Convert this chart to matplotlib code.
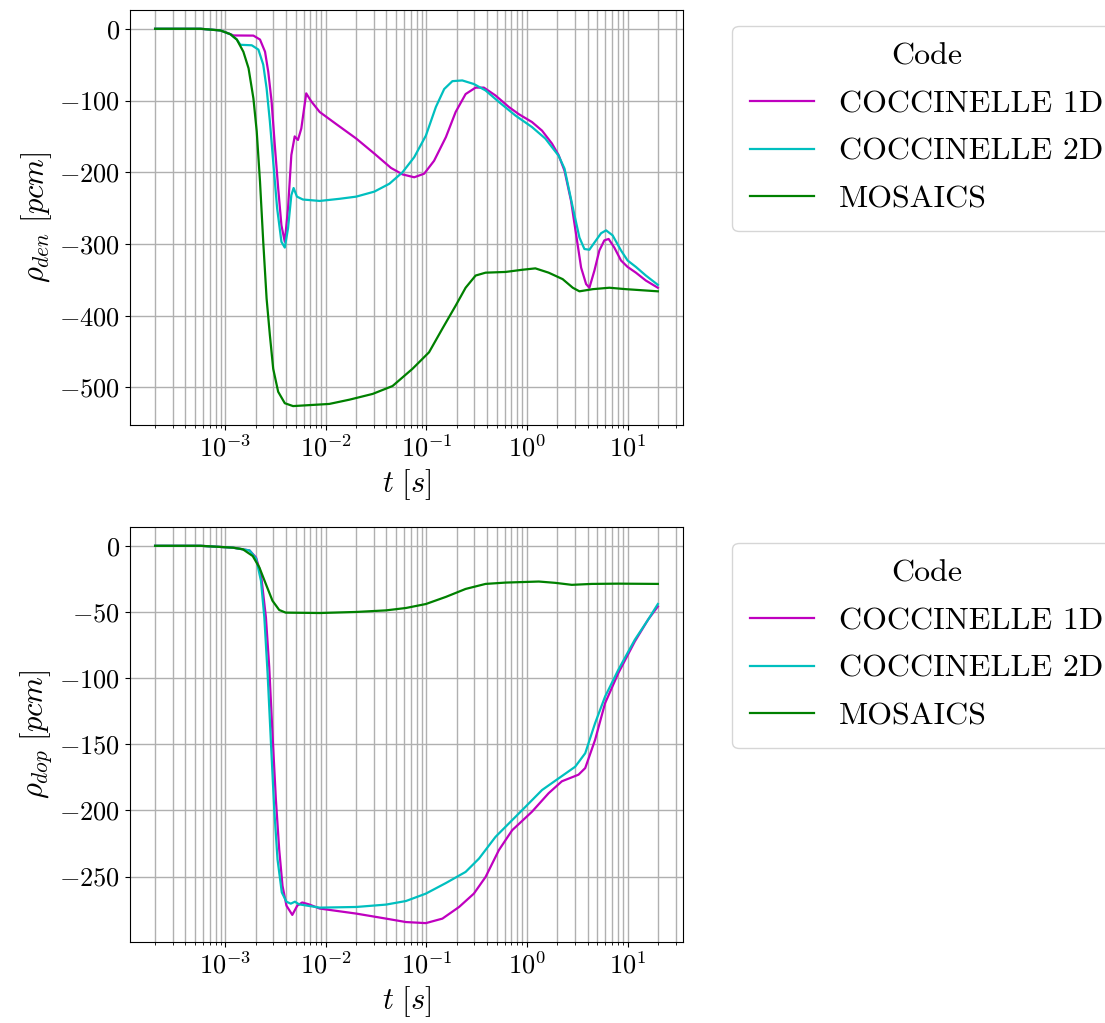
import matplotlib
matplotlib.use('Agg')
import matplotlib.pyplot as plt

plt.rcParams['font.family'] = 'serif'
plt.rcParams['font.serif'] = ['cmr10']
plt.rcParams['mathtext.fontset'] = 'cm'
plt.rcParams['axes.formatter.use_mathtext'] = True
plt.rcParams['axes.unicode_minus'] = True

labels = ['COCCINELLE 1D', 'COCCINELLE 2D', 'MOSAICS']
colors = ['m', 'c', 'g']

# --- density reactivity (top) ---
t_den_1d = [2.0e-4, 5.68e-4, 8.93e-4, 1.12e-3, 1.21e-3, 1.90e-3, 2.21e-3, 2.48e-3,
            2.67e-3, 2.88e-3, 3.10e-3, 3.35e-3, 3.61e-3, 3.90e-3, 4.20e-3, 4.53e-3,
            4.89e-3, 5.27e-3, 5.69e-3, 6.37e-3, 7.13e-3, 8.67e-3, 1.27e-2, 2.00e-2,
            3.03e-2, 4.44e-2, 5.78e-2, 7.55e-2, 9.49e-2, 0.119, 0.156, 0.195,
            0.245, 0.308, 0.372, 0.486, 0.659, 0.828, 1.12, 1.41, 1.77, 2.06,
            2.36, 2.74, 3.07, 3.45, 3.87, 4.17, 4.68, 5.24, 5.87, 6.48, 7.38,
            8.60, 10.0, 12.1, 15.2, 20.0]
rho_den_1d = [0, 0, -2.3, -7.5, -9.3, -9.5, -15, -32,
              -60, -101, -162, -222, -274, -297, -250, -176,
              -150, -155, -139, -90, -101, -116, -133, -153,
              -174, -194, -203, -207, -202, -184, -151, -116,
              -91, -82, -82, -93, -109, -119, -130, -142, -160, -176,
              -198, -240, -286, -333, -356, -361, -337, -309, -295, -293, -305,
              -323, -332, -340, -351, -361]

t_den_2d = [2.0e-4, 5.68e-4, 8.93e-4, 1.12e-3, 1.30e-3, 1.41e-3, 1.83e-3, 2.13e-3,
            2.38e-3, 2.57e-3, 2.77e-3, 2.99e-3, 3.27e-3, 3.61e-3, 3.90e-3, 4.20e-3,
            4.53e-3, 4.77e-3, 5.15e-3, 5.90e-3, 8.67e-3, 1.37e-2, 2.00e-2, 3.03e-2,
            4.28e-2, 5.78e-2, 7.55e-2, 9.86e-2, 0.124, 0.150, 0.181, 0.227,
            0.296, 0.387, 0.525, 0.768, 1.12, 1.52, 2.06, 2.36, 2.85, 3.32,
            3.72, 4.17, 4.68, 5.45, 6.11, 7.10, 8.60, 10.0, 12.1, 15.2, 20.0]
rho_den_2d = [0, 0, -2.3, -7.5, -15, -22.3, -23, -29,
              -50, -83, -129, -185, -250, -297, -305, -278,
              -232, -222, -234, -238, -240, -237, -234, -227,
              -216, -200, -179, -149, -109, -84, -73, -72,
              -77, -86, -102, -121, -137, -153, -177, -195, -249, -291,
              -307, -308, -298, -285, -281, -288, -309, -323, -332, -344, -357]

t_den_mos = [2.0e-4, 5.68e-4, 8.93e-4, 1.12e-3, 1.30e-3, 1.51e-3, 1.70e-3, 1.90e-3,
             2.05e-3, 2.21e-3, 2.38e-3, 2.57e-3, 2.77e-3, 2.99e-3, 3.35e-3, 3.90e-3,
             4.71e-3, 1.08e-2, 1.72e-2, 2.92e-2, 4.60e-2, 7.26e-2, 0.106, 0.144,
             0.195, 0.245, 0.308, 0.387, 0.611, 0.891, 1.21, 1.64, 2.26, 2.85,
             3.32, 4.50, 6.58, 9.64, 20.0]
rho_den_mos = [0, 0, -2.3, -7.5, -15, -32, -55, -97,
               -143, -213, -297, -376, -427, -474, -506, -522,
               -526, -523, -517, -509, -498, -474, -451, -418,
               -386, -361, -344, -340, -339, -336, -334, -340, -349, -361,
               -366, -363, -361, -363, -366]

# --- doppler reactivity (bottom) ---
t_dop_1d = [2.0e-4, 5.68e-4, 1.19e-3, 1.74e-3, 2.02e-3, 2.26e-3, 2.53e-3, 2.73e-3,
            2.94e-3, 3.18e-3, 3.43e-3, 3.70e-3, 4.05e-3, 4.63e-3, 5.19e-3, 5.81e-3,
            6.76e-3, 8.67e-3, 2.00e-2, 3.96e-2, 6.25e-2, 9.86e-2, 0.144, 0.211,
            0.296, 0.387, 0.525, 0.711, 1.12, 1.64, 2.22, 3.25, 3.79, 4.75,
            5.97, 8.09, 11.8, 16.0, 20.0]
rho_dop_1d = [0, 0, -1.4, -3.5, -8.9, -21.4, -54, -91.6,
              -141.8, -192, -229.5, -257, -272, -279, -272, -269.6,
              -271, -274.2, -278, -281.8, -284.4, -285.2, -281.8, -273,
              -262.9, -250.3, -230, -215, -201, -187, -178, -173, -168, -146.7,
              -119, -96.2, -72.3, -55.8, -45.8]

t_dop_2d = [2.0e-4, 5.68e-4, 1.19e-3, 1.74e-3, 2.02e-3, 2.26e-3, 2.44e-3, 2.63e-3,
            2.84e-3, 3.06e-3, 3.30e-3, 3.64e-3, 4.05e-3, 4.47e-3, 4.92e-3, 5.40e-3,
            8.67e-3, 2.00e-2, 3.96e-2, 6.25e-2, 9.86e-2, 0.156, 0.245, 0.333,
            0.486, 0.659, 0.964, 1.41, 2.06, 3.01, 3.79, 4.75, 5.97, 8.09,
            11.8, 16.0, 20.0]
rho_dop_2d = [0, 0, -1.4, -3.5, -9.6, -26.5, -54, -96.6,
              -149, -199, -237, -262, -269, -270.5, -269, -271,
              -273.5, -273, -271.2, -268.5, -262.9, -254.9, -246.5, -236.4,
              -220, -209.9, -197.3, -184.6, -175.8, -167, -156.8, -134.1, -114, -93.7,
              -71, -55.8, -44]

t_dop_mos = [2.0e-4, 5.68e-4, 1.19e-3, 1.49e-3, 1.87e-3, 2.18e-3, 2.53e-3, 2.94e-3,
             3.43e-3, 3.98e-3, 8.67e-3, 2.00e-2, 3.96e-2, 6.25e-2, 9.86e-2, 0.156,
             0.245, 0.387, 0.611, 1.31, 1.91, 2.79, 4.40, 8.09, 20.0]
rho_dop_mos = [0, 0, -1.4, -2.6, -7.7, -16.4, -29, -41.5,
               -48.5, -50.5, -50.8, -50, -48.8, -47, -44, -38.6,
               -32.6, -28.8, -27.8, -27, -28, -29.5, -28.8, -28.6, -28.8]

fig = plt.figure(figsize=(11.05, 10.23), dpi=100)
ax1 = fig.add_axes([0.1176, 0.5846, 0.5005, 0.4057])
ax2 = fig.add_axes([0.1176, 0.0792, 0.5005, 0.4057])

panels = [
    (ax1, [(t_den_1d, rho_den_1d), (t_den_2d, rho_den_2d), (t_den_mos, rho_den_mos)],
     r'$\rho_{den}\ [pcm]$'),
    (ax2, [(t_dop_1d, rho_dop_1d), (t_dop_2d, rho_dop_2d), (t_dop_mos, rho_dop_mos)],
     r'$\rho_{dop}\ [pcm]$'),
]

for ax, series, ylab in panels:
    for (t, rho), lab, col in zip(series, labels, colors):
        ax.plot(t, rho, color=col, lw=1.6, label=lab, solid_joinstyle='round')
    ax.set_xscale('log')
    ax.grid(True, which='both', color='#b0b0b0', lw=1.0)
    ax.set_axisbelow(True)
    ax.set_xlabel(r'$t\ [s]$', fontsize=22)
    ax.set_ylabel(ylab, fontsize=22)
    ax.tick_params(labelsize=19)
    ax.legend(title='Code', loc='upper left', bbox_to_anchor=(1.06, 1),
              fontsize=23, title_fontsize=23, labelspacing=0.6, borderpad=0.55)

fig.savefig('out.png', dpi=100)
